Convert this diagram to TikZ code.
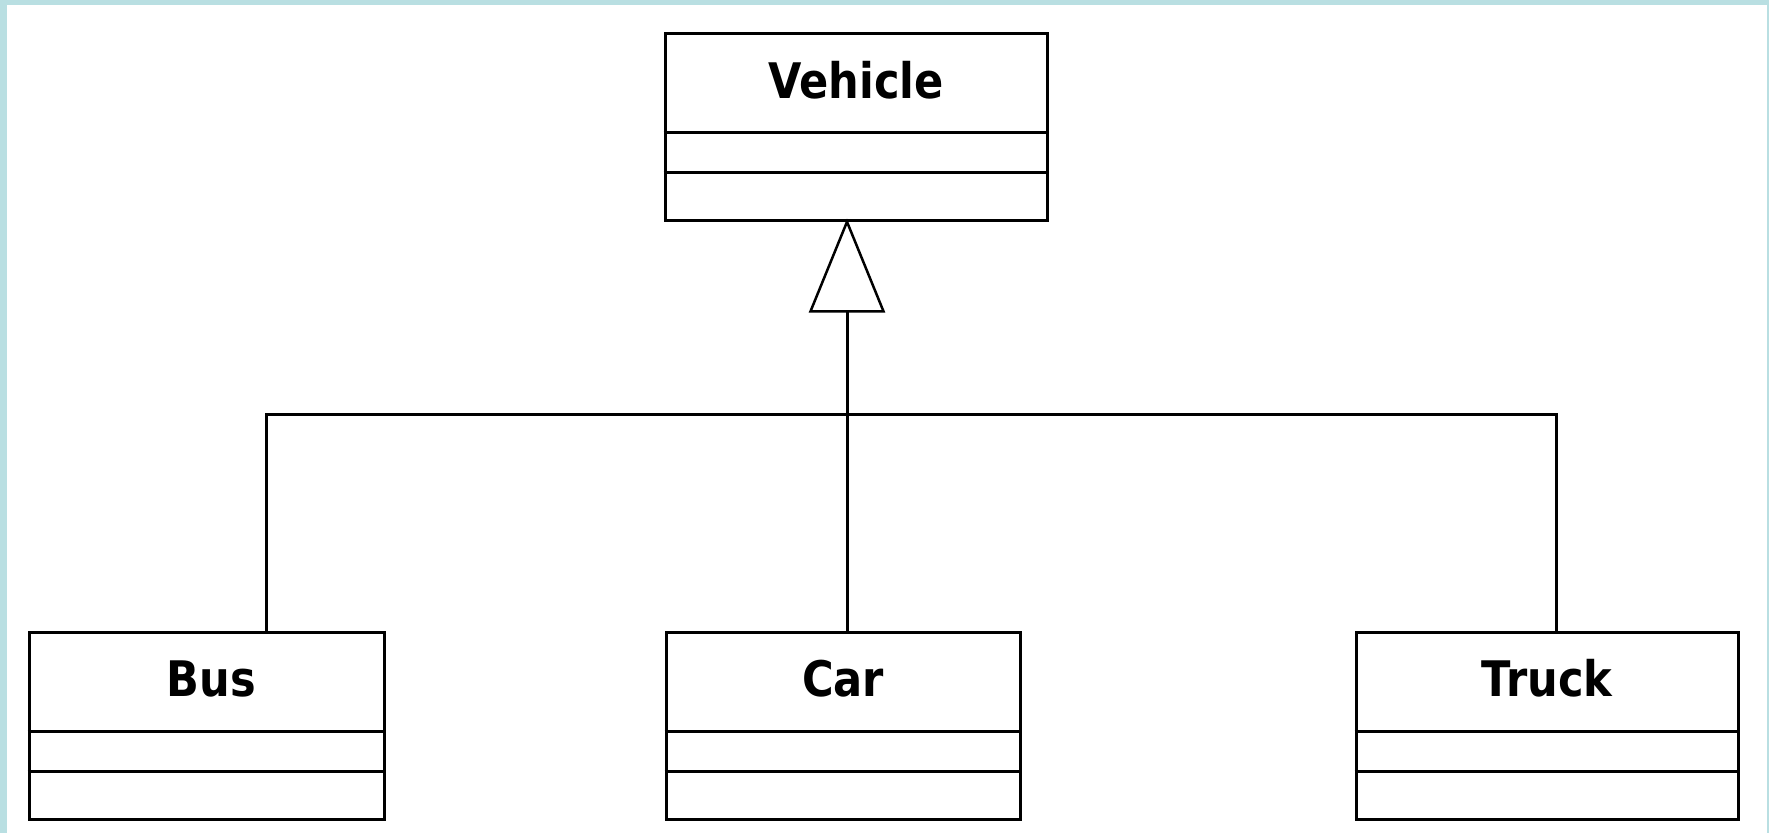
\documentclass[tikz,border=0pt]{standalone}
\usepackage{fontspec}
\newfontfamily\lblfont[FakeStretch=0.88]{DejaVu Sans}
\usetikzlibrary{arrows.meta}
\definecolor{frame}{RGB}{185,223,226}
\tikzset{
  cls/.style={draw=black, line width=3pt, fill=white, inner sep=0pt, minimum height=187pt},
  title/.style={anchor=base, inner sep=0pt, font=\lblfont\bfseries\fontsize{49}{50}\selectfont},
  conn/.style={draw=black, line width=3pt},
  divline/.style={draw=black, line width=3pt}
}
\begin{document}
\begin{tikzpicture}[x=1pt, y=-1pt]
\useasboundingbox (0,0) rectangle (1769,833);
\fill[frame] (0,0) rectangle (1769,833);
\fill[white] (7,5) rectangle (1767,833);

% class boxes
\node[cls, minimum width=382pt] (veh) at (856,126.5) {};
\node[cls, minimum width=355pt] (bus) at (206.5,725.5) {};
\node[cls, minimum width=354pt] (car) at (843,725.5) {};
\node[cls, minimum width=382pt] (truck) at (1547,725.5) {};

% titles
\node[title] (vehT) at ([yshift=-67pt]veh.north) {Vehicle};
\node[title] (busT) at ([xshift=5pt,yshift=-66pt]bus.north) {Bus};
\node[title] (carT) at ([yshift=-66pt]car.north) {Car};
\node[title] (truckT) at ([yshift=-66pt]truck.north) {Truck};

% compartments
\foreach \b in {veh,bus,car,truck}{
  \draw[divline] ([yshift=-101pt]\b.north west) -- ([yshift=-101pt]\b.north east);
  \draw[divline] ([yshift=-141pt]\b.north west) -- ([yshift=-141pt]\b.north east);
}

% generalization connectors
\coordinate (j) at (847,414);
\draw[conn] ([xshift=59.5pt]bus.north) |- (j);
\draw[conn] ([xshift=9pt]truck.north) |- (j);
\draw[conn] (car.north -| j) -- (j);
\draw[conn, shorten >=-3pt, -{Triangle[open, length=94pt, width=76pt, line width=2.5pt]}] (j) -- (j |- veh.south);
\end{tikzpicture}
\end{document}
